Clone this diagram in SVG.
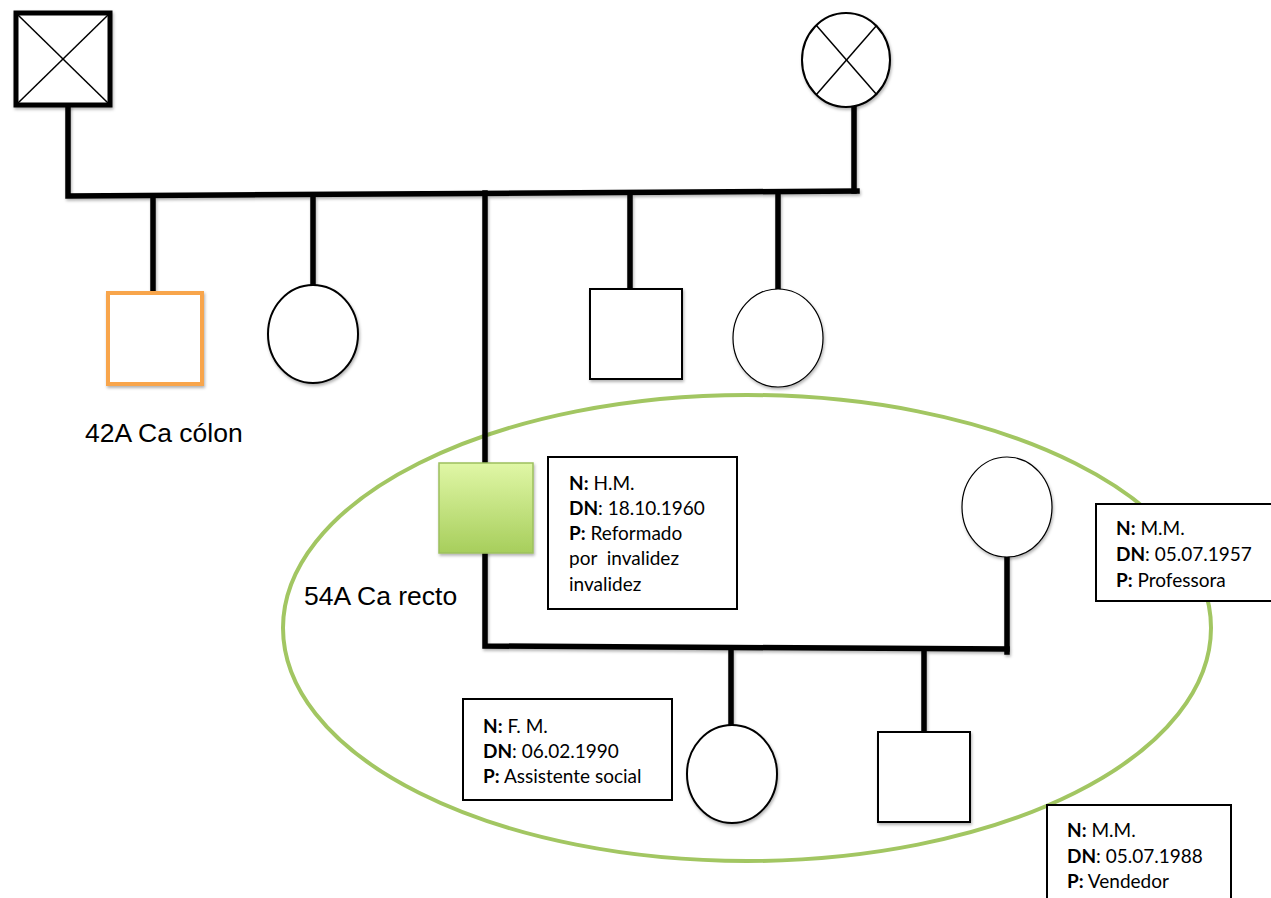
<svg xmlns="http://www.w3.org/2000/svg" width="1271" height="898" viewBox="0 0 1271 898">
<defs>
<linearGradient id="gSq" x1="0" y1="0" x2="0" y2="1"><stop offset="0" stop-color="#E0F7A6"/><stop offset="1" stop-color="#A7CE5C"/></linearGradient>
<filter id="sh" x="-20%" y="-20%" width="140%" height="140%"><feDropShadow dx="1" dy="2" stdDeviation="1.5" flood-color="#000" flood-opacity="0.3"/></filter>
</defs>
<style>
.ln{fill:none;stroke:#000;stroke-width:5.5;stroke-linecap:square}
.nd{fill:#fff;stroke:#000}
.box{fill:#fff;stroke:#000;stroke-width:2}
.lbl{font-family:"Liberation Sans",Arial,sans-serif;font-size:26.5px;fill:#000}
.inf{font-family:Lato,"Liberation Sans",sans-serif;font-size:19px;fill:#000}
.inf tspan.b{font-weight:bold}
</style>
<rect width="1271" height="898" fill="#fff"/>
<g id="group-ellipse">
<ellipse cx="747" cy="628" rx="464" ry="233" fill="none" stroke="#A2C662" stroke-width="4"/>
</g>
<g id="connectors" filter="url(#sh)">
<polyline class="ln" points="68,108 68,196 857,191"/>
<polyline class="ln" points="854,108 854,191"/>
<line class="ln" x1="153" y1="196" x2="153" y2="292"/>
<line class="ln" x1="313" y1="195" x2="313" y2="284"/>
<line class="ln" x1="485" y1="193" x2="485" y2="462"/>
<line class="ln" x1="630" y1="193" x2="630" y2="287"/>
<line class="ln" x1="778" y1="192" x2="778" y2="288"/>
<polyline class="ln" points="485,553 485,646 1007,649"/>
<line class="ln" x1="1007" y1="557" x2="1007" y2="652"/>
<line class="ln" x1="731" y1="648" x2="731" y2="724"/>
<line class="ln" x1="924" y1="651" x2="924" y2="731"/>
</g>
<g id="grandfather" filter="url(#sh)">
<rect x="16" y="13" width="94" height="92" class="nd" stroke-width="5"/>
<line x1="18" y1="15" x2="108" y2="103" stroke="#000" stroke-width="1.5"/>
<line x1="108" y1="15" x2="18" y2="103" stroke="#000" stroke-width="1.5"/>
</g>
<g id="grandmother" filter="url(#sh)">
<ellipse cx="846" cy="60" rx="44" ry="47" class="nd" stroke-width="2"/>
<line x1="816" y1="25" x2="877" y2="95" stroke="#000" stroke-width="1.5"/>
<line x1="877" y1="25" x2="816" y2="95" stroke="#000" stroke-width="1.5"/>
</g>
<g id="uncle-colon" filter="url(#sh)">
<rect x="108" y="293" width="94" height="91" fill="#fff" stroke="#F8A54C" stroke-width="4"/>
</g>
<text class="lbl" x="85" y="442">42A Ca cólon</text>
<g id="aunt1" filter="url(#sh)">
<ellipse cx="313" cy="334" rx="45" ry="49" class="nd" stroke-width="2"/>
</g>
<g id="patient" filter="url(#sh)">
<rect x="439" y="463" width="94" height="90" fill="url(#gSq)" stroke="#9DC05E" stroke-width="1.5"/>
</g>
<text class="lbl" x="304" y="605">54A Ca recto</text>
<g id="uncle2" filter="url(#sh)">
<rect x="590" y="289" width="92" height="90" class="nd" stroke-width="2"/>
</g>
<g id="aunt2" filter="url(#sh)">
<ellipse cx="778" cy="338" rx="45" ry="49" class="nd" stroke-width="1.2"/>
</g>
<g id="wife" filter="url(#sh)">
<ellipse cx="1007" cy="507" rx="45" ry="50" class="nd" stroke-width="1.2"/>
</g>
<g id="daughter" filter="url(#sh)">
<ellipse cx="732" cy="774" rx="45" ry="49" class="nd" stroke-width="2"/>
</g>
<g id="son" filter="url(#sh)">
<rect x="878" y="732" width="92" height="90" class="nd" stroke-width="2"/>
</g>
<g id="info-patient">
<rect class="box" x="548" y="457" width="189" height="152"/>
<text class="inf" x="569" y="490"><tspan class="b">N:</tspan> H.M.</text>
<text class="inf" x="569" y="515"><tspan class="b">DN</tspan>: 18.10.1960</text>
<text class="inf" x="569" y="540"><tspan class="b">P:</tspan> Reformado</text>
<text class="inf" x="569" y="565" xml:space="preserve">por  invalidez</text>
<text class="inf" x="569" y="591">invalidez</text>
</g>
<g id="info-wife">
<rect class="box" x="1096" y="504" width="180" height="97"/>
<text class="inf" x="1116" y="535"><tspan class="b">N:</tspan> M.M.</text>
<text class="inf" x="1116" y="561"><tspan class="b">DN</tspan>: 05.07.1957</text>
<text class="inf" x="1116" y="587"><tspan class="b">P:</tspan> Professora</text>
</g>
<g id="info-daughter">
<rect class="box" x="463" y="699" width="209" height="101"/>
<text class="inf" x="483" y="733"><tspan class="b">N:</tspan> F. M.</text>
<text class="inf" x="483" y="758"><tspan class="b">DN</tspan>: 06.02.1990</text>
<text class="inf" x="483" y="783"><tspan class="b">P:</tspan> Assistente social</text>
</g>
<g id="info-son">
<rect class="box" x="1047" y="805" width="184" height="100"/>
<text class="inf" x="1067" y="837"><tspan class="b">N:</tspan> M.M.</text>
<text class="inf" x="1067" y="863"><tspan class="b">DN</tspan>: 05.07.1988</text>
<text class="inf" x="1067" y="888"><tspan class="b">P:</tspan> Vendedor</text>
</g>
</svg>
